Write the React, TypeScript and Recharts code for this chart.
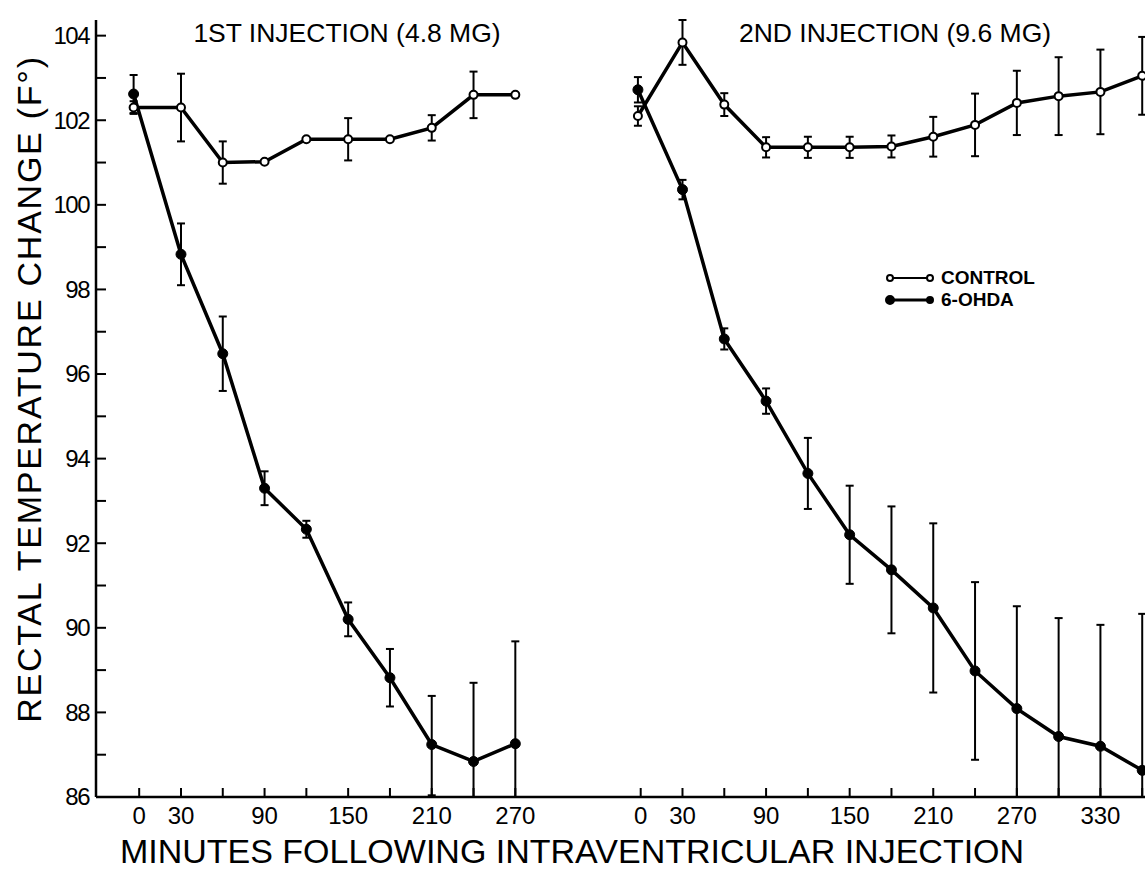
import React from 'react';
import { ErrorBar, Legend, Line, LineChart, XAxis, YAxis } from 'recharts';

// second injection panel sits on the same time axis, shifted right
const PANEL2_OFFSET = 360;

// 1st injection (4.8 mg)
const minutes1 = [-4, 30, 60, 90, 120, 150, 180, 210, 240, 270];
const control1 = [102.3, 102.3, 101.0, 101.02, 101.55, 101.55, 101.55, 101.82, 102.6, 102.6];
const control1Err = [0.15, 0.8, 0.5, 0, 0, 0.5, 0, 0.3, 0.55, 0];
const ohda1 = [102.62, 98.83, 96.48, 93.3, 92.33, 90.2, 88.82, 87.24, 86.84, 87.26];
const ohda1Err: (number | number[])[] = [0.45, 0.73, 0.88, 0.4, 0.2, 0.4, 0.68, [1.2, 1.15], [0.84, 1.86], [1.26, 2.42]];

// 2nd injection (9.6 mg)
const minutes2 = [-2, 30, 60, 90, 120, 150, 180, 210, 240, 270, 300, 330, 360];
const control2 = [102.1, 103.84, 102.37, 101.36, 101.36, 101.36, 101.38, 101.61, 101.89, 102.41, 102.57, 102.67, 103.05];
const control2Err = [0.23, 0.53, 0.27, 0.24, 0.25, 0.25, 0.26, 0.47, 0.74, 0.76, 0.92, 1.0, 0.92];
const ohda2 = [102.72, 100.36, 96.83, 95.36, 93.65, 92.2, 91.37, 90.47, 88.98, 88.09, 87.43, 87.2, 86.63];
const ohda2Err: (number | number[])[] = [0.3, 0.23, 0.25, 0.3, 0.84, 1.16, 1.5, 2.0, 2.1, [2.09, 2.42], [1.43, 2.8], [1.2, 2.87], [0.63, 3.7]];

const tickMinutes1 = [0, 30, 60, 90, 120, 150, 180, 210, 240, 270];
const tickMinutes2 = [0, 30, 60, 90, 120, 150, 180, 210, 240, 270, 300, 330, 360];
const labeledMinutes = [0, 30, 90, 150, 210, 270, 330];
const tempTicks = [86, 87, 88, 89, 90, 91, 92, 93, 94, 95, 96, 97, 98, 99, 100, 101, 102, 103, 104];
const legendNames = ['CONTROL', '6-OHDA'];

const FONT = '"Liberation Sans", Arial, sans-serif';

const CHART_W = 1145;
const CHART_H = 875;
const TOP = 20;
const X_AXIS_H = 78;
const Y_AXIS_W = 96;
const AXIS_Y = CHART_H - X_AXIS_H;

const toRows = (mins: number[], vals: number[], errs: (number | number[])[], offset: number) =>
  mins.map((m, i) => ({ t: m + offset, v: vals[i], e: errs[i] || null }));

const control1Data = toRows(minutes1, control1, control1Err, 0);
const ohda1Data = toRows(minutes1, ohda1, ohda1Err, 0);
const control2Data = toRows(minutes2, control2, control2Err, PANEL2_OFFSET);
const ohda2Data = toRows(minutes2, ohda2, ohda2Err, PANEL2_OFFSET);

const xTicks = [...tickMinutes1, ...tickMinutes2.map((m) => m + PANEL2_OFFSET)];

const MinuteTick = (props: any) => {
  const { x, payload } = props;
  const m = payload.value >= PANEL2_OFFSET ? payload.value - PANEL2_OFFSET : payload.value;
  return (
    <g>
      <line x1={x} x2={x} y1={AXIS_Y} y2={AXIS_Y - 9} stroke="#000" strokeWidth={2} />
      {labeledMinutes.includes(m) && (
        <text x={x} y={AXIS_Y + 19} dy="0.35em" textAnchor="middle" fontFamily={FONT} fontSize={24} fill="#000">
          {m}
        </text>
      )}
    </g>
  );
};

const TempTick = (props: any) => {
  const { y, payload } = props;
  return (
    <g>
      <line x1={Y_AXIS_W} x2={Y_AXIS_W + 10} y1={y} y2={y} stroke="#000" strokeWidth={2} />
      {payload.value % 2 === 0 && (
        <text x={Y_AXIS_W - 7} y={y} dy="0.35em" textAnchor="end" fontFamily={FONT} fontSize={24} letterSpacing={-1.5} fill="#000">
          {payload.value}
        </text>
      )}
    </g>
  );
};

const renderLegend = () => (
  <div>
    {legendNames.map((name) => {
      const open = name === 'CONTROL';
      return (
        <div key={name} style={{ display: 'flex', alignItems: 'center', height: 22 }}>
          <svg width={50} height={14}>
            <line x1={5} x2={45} y1={7} y2={7} stroke="#000" strokeWidth={open ? 2 : 3} />
            <circle cx={5} cy={7} r={open ? 3 : 4} fill={open ? '#fff' : '#000'} stroke="#000" strokeWidth={2} />
            <circle cx={45} cy={7} r={3} fill={open ? '#fff' : '#000'} stroke="#000" strokeWidth={2} />
          </svg>
          <span style={{ marginLeft: 6, fontFamily: FONT, fontWeight: 'bold', fontSize: 19, lineHeight: '22px' }}>
            {name}
          </span>
        </div>
      );
    })}
  </div>
);

const openDot = { r: 4, fill: '#fff', stroke: '#000', strokeWidth: 2 };
const filledDot = { r: 5, fill: '#000', stroke: '#000', strokeWidth: 1 };

const centered: React.CSSProperties = {
  position: 'absolute',
  transform: 'translate(-50%, -50%)',
  whiteSpace: 'nowrap',
  fontFamily: FONT,
  color: '#000',
  lineHeight: 1,
};

const App: React.FC = () => {
  return (
    <div style={{ position: 'absolute', left: 0, top: 0, width: CHART_W, height: CHART_H, background: '#fff' }}>
      <LineChart width={CHART_W} height={CHART_H} margin={{ top: TOP, right: 0, bottom: 0, left: 0 }}>
        <XAxis
          type="number"
          dataKey="t"
          domain={[-31, 722]}
          ticks={xTicks}
          interval={0}
          height={X_AXIS_H}
          tickLine={false}
          axisLine={{ stroke: '#000', strokeWidth: 2.5 }}
          tick={<MinuteTick />}
        />
        <YAxis
          type="number"
          domain={[86, 104]}
          ticks={tempTicks}
          interval={0}
          width={Y_AXIS_W}
          tickLine={false}
          axisLine={{ stroke: '#000', strokeWidth: 2.5 }}
          tick={<TempTick />}
        />
        <Legend
          layout="vertical"
          verticalAlign="middle"
          align="center"
          wrapperStyle={{ position: 'absolute', left: 885, top: 267, width: 200 }}
          content={renderLegend}
        />
        <Line data={control1Data} dataKey="v" name="CONTROL" stroke="#000" strokeWidth={3.5} dot={openDot} activeDot={false} isAnimationActive={false}>
          <ErrorBar dataKey="e" width={4} strokeWidth={2} stroke="#000" direction="y" />
        </Line>
        <Line data={ohda1Data} dataKey="v" name="6-OHDA" stroke="#000" strokeWidth={3.5} dot={filledDot} activeDot={false} isAnimationActive={false}>
          <ErrorBar dataKey="e" width={4} strokeWidth={2} stroke="#000" direction="y" />
        </Line>
        <Line data={control2Data} dataKey="v" name="CONTROL " legendType="none" stroke="#000" strokeWidth={3.5} dot={openDot} activeDot={false} isAnimationActive={false}>
          <ErrorBar dataKey="e" width={4} strokeWidth={2} stroke="#000" direction="y" />
        </Line>
        <Line data={ohda2Data} dataKey="v" name="6-OHDA " legendType="none" stroke="#000" strokeWidth={3.5} dot={filledDot} activeDot={false} isAnimationActive={false}>
          <ErrorBar dataKey="e" width={4} strokeWidth={2} stroke="#000" direction="y" />
        </Line>
      </LineChart>

      <div style={{ ...centered, left: 347, top: 33, fontSize: 26.5 }}>1ST INJECTION (4.8 MG)</div>
      <div style={{ ...centered, left: 895, top: 33, fontSize: 26.5 }}>2ND INJECTION (9.6 MG)</div>
      <div style={{ ...centered, left: 572, top: 851, fontSize: 34 }}>MINUTES FOLLOWING INTRAVENTRICULAR INJECTION</div>
      <div style={{ ...centered, left: 29, top: 389, fontSize: 34, letterSpacing: 1.75, transform: 'translate(-50%, -50%) rotate(-90deg)' }}>
        RECTAL TEMPERATURE CHANGE (F°)
      </div>
    </div>
  );
};

export default App;
